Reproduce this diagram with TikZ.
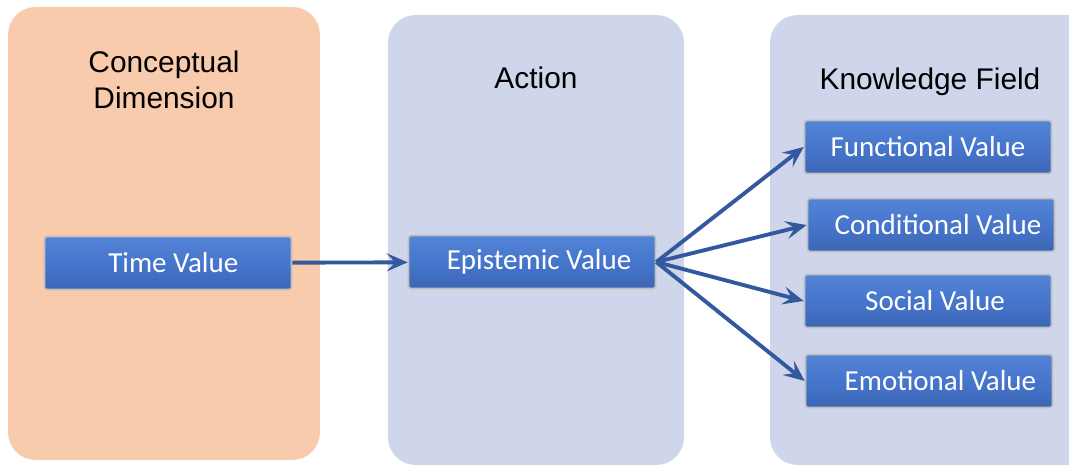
\documentclass[tikz,border=0pt]{standalone}
\usepackage{fontspec}
\setmainfont{Liberation Sans}
\newfontfamily\boxfont{Carlito}
\usepackage{xcolor}
\usetikzlibrary{positioning,arrows.meta,shapes,calc}
\definecolor{peach}{RGB}{247,203,172}
\definecolor{lav}{RGB}{207,213,234}
\definecolor{boxblue}{RGB}{70,118,204}
\definecolor{boxtop}{RGB}{84,132,214}
\definecolor{boxbot}{RGB}{60,102,182}
\definecolor{arrblue}{RGB}{50,88,158}

\begin{document}
\begin{tikzpicture}[x=0.02cm, y=-0.02cm,
  panel/.style={rounded corners=0.55cm, inner sep=0pt, minimum height=9cm},
  ttl/.style={font=\fontsize{17}{20.5}\selectfont, align=center, text=black},
  valbox/.style={draw=gray!50, line width=0.9pt, rounded corners=1.5pt,
                 top color=boxtop, bottom color=boxbot, middle color=boxblue,
                 text=white, font=\boxfont\fontsize{16.5}{19}\selectfont,
                 minimum width=4.94cm, minimum height=1.06cm, inner sep=0pt},
  arr/.style={-{Stealth[length=4.2mm, width=3.6mm, inset=1.7mm]}, line width=2.2pt, draw=arrblue},
]
\useasboundingbox (0,0) rectangle (1069,466);
\clip (0,0) rectangle (1069,466);

% columns
\node[panel, fill=peach, minimum width=6.24cm, minimum height=9.06cm] (colA) at (164,233.5) {};
\node[panel, fill=lav, minimum width=5.92cm] (colB) at (536,240) {};
\node[panel, fill=lav, minimum width=6.6cm] (colC) at (935,240) {};

\node[ttl] (ttlA) at (164,80) {Conceptual\\Dimension};
\node[ttl] (ttlB) at (536,78) {Action};
\node[ttl] (ttlC) at (930,82) {Knowledge Field};

% values
\node[valbox] (time) at (168,263) {\hspace{6pt}Time Value};
\node[valbox] (epi) at (532,262) {\hspace{8pt}Epistemic Value};
\node[valbox] (func) at (928,147) {Functional Value};
\node[valbox] (cond) at (931,225) {\hspace{8pt}Conditional Value};
\node[valbox] (soc) at (928,301) {\hspace{8pt}Social Value};
\node[valbox] (emo) at (929,381) {\hspace{13pt}Emotional Value};

\draw[arr] (time) -- (epi);
\foreach \t in {func,cond,soc,emo}
  \draw[arr] (epi.east) -- (\t.west);
\end{tikzpicture}
\end{document}
